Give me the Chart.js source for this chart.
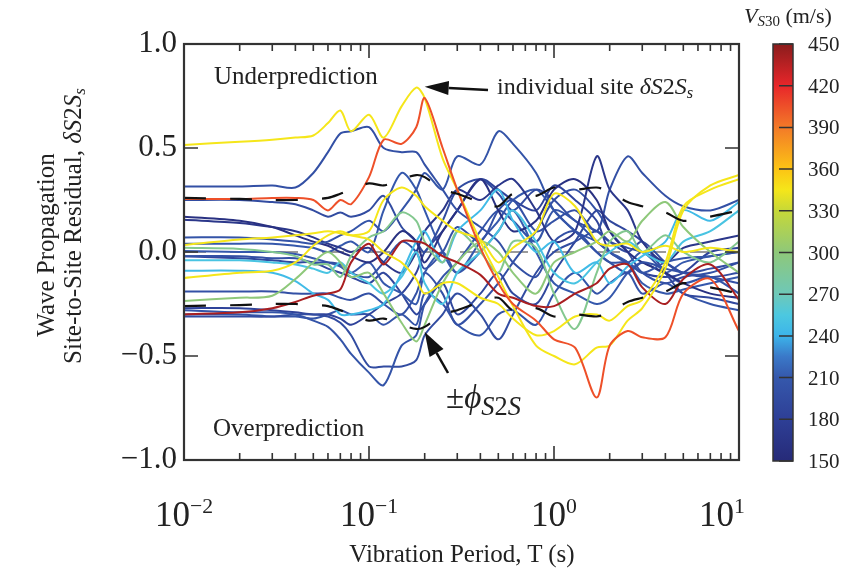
<!DOCTYPE html>
<html>
<head>
<meta charset="utf-8">
<script src="https://cdn.jsdelivr.net/npm/chart.js@4.4.0/dist/chart.umd.min.js"></script>
<style>
  body { margin: 0; background: #fff; }
  #wrap { position: relative; width: 853px; height: 580px; overflow: hidden; }
  #c { position: absolute; left: 0; top: 0; }
  .t { position: absolute; font-family: "Liberation Serif", "Times New Roman", serif; color: #222; white-space: nowrap; line-height: 1; }
  .t sub { font-size: 0.68em; vertical-align: -0.25em; }
  .t sup { font-size: 0.62em; vertical-align: 0.6em; }
  .t .big { font-size: 0.8em; }
</style>
</head>
<body>
<div id="wrap">
  <canvas id="c" width="853" height="580"></canvas>
</div>
<script>
// periods (s) at which each site curve is read
const periods = [0.01, 0.02, 0.03, 0.04, 0.05, 0.06, 0.07, 0.08, 0.1, 0.12, 0.15, 0.18, 0.2, 0.25, 0.3,
                 0.4, 0.5, 0.6, 0.8, 1.0, 1.3, 1.7, 2.0, 2.5, 3.0, 4.0, 5.0, 7.0, 10.0];

// standard deviation of site terms (plotted as +/-)
const phiS2S = [0.26, 0.255, 0.25, 0.25, 0.255, 0.26, 0.28, 0.3, 0.33, 0.32, 0.35, 0.37, 0.36, 0.3, 0.28,
                0.24, 0.22, 0.28, 0.27, 0.31, 0.3, 0.31, 0.29, 0.24, 0.22, 0.19, 0.15, 0.17, 0.2];

// individual site terms dS2Ss
const site01 = [0.515, 0.53, 0.54, 0.55, 0.56, 0.62, 0.68, 0.58, 0.66, 0.55, 0.70, 0.79, 0.74, 0.45, 0.30, 0.05, -0.12, -0.26, -0.45, -0.50, -0.54, -0.46, -0.45, -0.33, -0.27, -0.08, 0.2, 0.32, 0.37];
const site02 = [0.255, 0.255, 0.26, 0.26, 0.25, 0.2, 0.25, 0.23, 0.36, 0.54, 0.52, 0.6, 0.74, 0.5, 0.3, 0.02, -0.15, -0.25, -0.33, -0.42, -0.46, -0.70, -0.45, -0.38, -0.41, -0.41, -0.2, -0.13, -0.38];
const site03 = [-0.30, -0.29, -0.27, -0.24, -0.21, -0.2, -0.18, -0.05, 0.04, -0.06, 0.05, 0.05, 0.04, -0.02, -0.05, -0.11, -0.2, -0.22, -0.26, -0.26, -0.2, -0.15, -0.08, -0.06, -0.17, -0.25, -0.13, -0.06, -0.23];
const site04 = [0.315, 0.315, 0.32, 0.31, 0.38, 0.48, 0.57, 0.58, 0.6, 0.5, 0.48, 0.48, 0.42, 0.3, 0.2, 0.12, 0.05, -0.05, -0.12, 0.05, 0.1, 0.0, -0.05, -0.1, -0.05, -0.08, -0.1, -0.12, -0.15];
const site05 = [0.07, 0.07, 0.06, 0.05, 0.04, 0.05, 0.08, 0.1, 0.15, 0.1, 0.2, 0.3, 0.38, 0.3, 0.46, 0.42, 0.58, 0.52, 0.38, 0.2, 0.1, 0.0, -0.05, -0.05, -0.1, -0.05, -0.03, -0.02, 0.0];
const site06 = [0.17, 0.15, 0.12, 0.08, 0.05, 0.03, 0.0, -0.02, -0.05, 0.0, 0.1, 0.05, -0.05, 0.1, 0.2, 0.35, 0.2, 0.1, 0.15, 0.3, 0.35, 0.25, 0.1, 0.0, -0.05, -0.1, -0.15, -0.2, -0.22];
const site07 = [0.155, 0.14, 0.12, 0.1, 0.07, 0.04, 0.02, 0.0, 0.02, -0.05, -0.1, 0.0, 0.1, 0.2, 0.3, 0.25, 0.32, 0.35, 0.2, 0.05, 0.1, 0.46, 0.3, 0.2, 0.05, -0.05, 0.02, 0.05, 0.08];
const site08 = [-0.02, -0.02, -0.03, -0.03, -0.05, -0.05, -0.06, -0.1, -0.12, -0.05, 0.05, 0.0, -0.08, 0.0, 0.12, 0.05, 0.2, 0.25, 0.1, 0.15, 0.2, 0.1, 0.3, 0.46, 0.38, 0.27, 0.22, 0.2, 0.25];
const site09 = [-0.28, -0.29, -0.29, -0.3, -0.33, -0.36, -0.42, -0.49, -0.58, -0.64, -0.45, -0.4, -0.25, -0.12, -0.05, 0.1, 0.2, 0.15, 0.05, 0.2, 0.15, 0.05, 0.0, -0.05, 0.0, -0.1, -0.15, -0.12, -0.2];
const site10 = [-0.31, -0.31, -0.31, -0.3, -0.3, -0.31, -0.34, -0.4, -0.55, -0.55, -0.55, -0.52, -0.4, -0.3, -0.2, -0.3, -0.42, -0.3, -0.1, 0.0, 0.05, 0.1, 0.05, 0.0, 0.05, -0.05, -0.1, -0.08, -0.05];
const site11 = [-0.09, -0.09, -0.1, -0.14, -0.2, -0.23, -0.3, -0.3, -0.28, -0.25, -0.1, 0.05, 0.1, -0.05, 0.1, 0.2, 0.3, 0.15, 0.0, 0.05, -0.1, -0.05, -0.15, -0.07, -0.02, 0.05, 0.2, 0.15, 0.24];
const site12 = [-0.04, -0.04, -0.05, -0.06, -0.08, -0.1, -0.05, -0.1, -0.15, -0.2, -0.12, 0.0, -0.15, -0.25, -0.1, 0.0, 0.1, 0.2, 0.05, -0.1, -0.15, -0.05, 0.0, 0.05, 0.0, -0.05, 0.05, 0.1, 0.2];
const site13 = [0.02, 0.015, 0.0, -0.02, -0.06, -0.06, -0.12, -0.02, 0.07, 0.1, 0.19, 0.15, 0.05, -0.05, 0.1, 0.0, -0.1, 0.05, 0.02, -0.2, -0.37, -0.1, 0.05, 0.1, 0.0, 0.08, 0.0, -0.05, 0.05];
const site14 = [-0.235, -0.22, -0.21, -0.13, -0.05, 0.0, -0.05, -0.12, -0.1, -0.2, -0.34, -0.43, -0.35, -0.15, -0.05, 0.05, 0.0, -0.1, -0.2, -0.05, 0.0, 0.05, 0.1, 0.05, 0.15, 0.24, 0.12, 0.0, -0.1];
const site15 = [0.034, 0.06, 0.07, 0.08, 0.09, 0.1, 0.09, 0.08, 0.1, 0.25, 0.31, 0.27, 0.22, 0.15, 0.1, 0.06, -0.05, 0.02, 0.1, 0.28, 0.22, 0.05, 0.03, 0.04, 0.0, 0.03, 0.0, 0.02, 0.0];
const site16 = [-0.125, -0.1, -0.09, -0.05, 0.03, 0.08, 0.1, 0.08, 0.06, 0.0, -0.05, -0.13, -0.2, -0.15, -0.15, -0.22, -0.25, -0.32, -0.4, -0.38, -0.31, -0.3, -0.33, -0.26, -0.23, -0.05, 0.22, 0.3, 0.35];
const site17 = [0.25, 0.25, 0.24, 0.23, 0.2, 0.17, 0.19, 0.17, 0.2, 0.27, 0.12, 0.05, 0.0, 0.15, 0.3, 0.35, 0.28, 0.2, 0.3, 0.25, 0.15, 0.1, 0.05, 0.02, 0.0, -0.05, -0.1, -0.12, -0.1];
const site18 = [0.005, 0.0, 0.0, -0.01, -0.03, -0.05, -0.07, -0.1, -0.05, -0.15, -0.2, -0.25, -0.1, 0.0, -0.1, 0.05, 0.15, 0.25, 0.3, 0.2, 0.1, 0.05, 0.0, -0.05, -0.15, -0.2, -0.18, -0.15, -0.12];
const site19 = [-0.02, -0.03, -0.04, -0.05, -0.05, -0.08, -0.1, -0.12, -0.15, -0.1, -0.2, -0.3, -0.25, -0.15, -0.3, -0.2, -0.1, -0.2, -0.25, -0.1, 0.05, 0.2, 0.15, 0.1, 0.05, -0.1, -0.2, -0.22, -0.25];
const site20 = [-0.19, -0.19, -0.19, -0.2, -0.2, -0.2, -0.22, -0.23, -0.2, -0.25, -0.3, -0.2, -0.1, -0.2, -0.35, -0.25, -0.15, -0.05, 0.1, 0.25, 0.3, 0.2, 0.1, 0.0, -0.1, -0.15, -0.12, -0.1, -0.05];
const site21 = [-0.27, -0.27, -0.28, -0.29, -0.3, -0.3, -0.32, -0.35, -0.3, -0.25, -0.2, -0.1, 0.0, 0.1, 0.2, 0.35, 0.3, 0.25, 0.2, 0.32, 0.25, 0.15, 0.0, -0.05, -0.1, -0.12, -0.1, 0.0, 0.02];
const site22 = [-0.3, -0.3, -0.31, -0.31, -0.32, -0.3, -0.28, -0.3, -0.3, -0.35, -0.3, -0.35, -0.2, -0.25, -0.35, -0.4, -0.3, -0.28, -0.35, -0.2, -0.1, -0.2, -0.15, -0.1, -0.2, -0.15, -0.2, -0.25, -0.28];
const site23 = [0.04, 0.04, 0.04, 0.03, 0.02, 0.0, 0.03, 0.05, 0.0, 0.2, 0.38, 0.3, 0.2, 0.0, -0.1, 0.0, 0.1, 0.2, 0.0, -0.15, -0.2, -0.25, -0.22, -0.1, -0.05, -0.1, -0.05, -0.02, 0.0];

const sites = [site01, site02, site03, site04, site05, site06, site07, site08, site09, site10, site11, site12,
               site13, site14, site15, site16, site17, site18, site19, site20, site21, site22, site23];
// Vs30 (m/s) of each site, sets its colour
const siteVs30 = [345, 405, 440, 200, 205, 160, 168, 200, 205, 195, 245, 252,
                  290, 300, 345, 345, 195, 210, 190, 200, 185, 205, 210];

// colour bar
const cbarTicks = [450, 420, 390, 360, 330, 300, 270, 240, 210, 180, 150];
const cmapVs = [150, 180, 210, 225, 240, 255, 270, 300, 330, 345, 360, 390, 420, 450];
const cmapRgb = [[38, 42, 120], [46, 63, 150], [53, 88, 172], [58, 120, 200], [60, 180, 234], [76, 200, 224],
                 [110, 200, 184], [142, 200, 122], [198, 216, 56], [245, 230, 26], [252, 196, 20],
                 [243, 122, 40], [232, 38, 42], [138, 28, 28]];

// x tick labels
const xDecades = [0.01, 0.1, 1, 10];
const xExponents = ['\u22122', '\u22121', '0', '1'];

function vsColor(v) {
    let i = 0;
    while (i < cmapVs.length - 2 && v > cmapVs[i + 1]) i++;
    const f = Math.max(0, Math.min(1, (v - cmapVs[i]) / (cmapVs[i + 1] - cmapVs[i])));
    const a = cmapRgb[i], b = cmapRgb[i + 1];
    return 'rgb(' + a.map((c, k) => Math.round(c + (b[k] - c) * f)).join(',') + ')';
}

function toPoints(vals) {
    return periods.map((t, i) => ({ x: t, y: vals[i] }));
}

const datasets = [];
datasets.push({ data: toPoints(phiS2S), borderColor: '#111', borderWidth: 2.2, borderDash: [22, 24], tension: 0.3 });
datasets.push({ data: toPoints(phiS2S.map(v => -v)), borderColor: '#111', borderWidth: 2.2, borderDash: [22, 24], tension: 0.3 });
// draw order: put the red/yellow curves above the blue ones
const drawOrder = [1, 0, 15, 14, 2, 12, 13, 10, 11, 3, 4, 5, 6, 7, 8, 9, 16, 17, 18, 19, 20, 21, 22];
drawOrder.forEach(i => {
    datasets.push({ data: toPoints(sites[i]), borderColor: vsColor(siteVs30[i]), borderWidth: 2, tension: 0.3 });
});
datasets.push({ data: [{ x: 0.01, y: 0 }, { x: 10, y: 0 }], borderColor: '#9a9a9a', borderWidth: 2, borderDash: [22, 24] });

function arrow(ctx, x0, y0, x1, y1, headLen, headW) {
    const ang = Math.atan2(y1 - y0, x1 - x0);
    const bx = x1 - headLen * Math.cos(ang), by = y1 - headLen * Math.sin(ang);
    ctx.beginPath();
    ctx.moveTo(x0, y0);
    ctx.lineTo(bx, by);
    ctx.lineWidth = 2.5;
    ctx.strokeStyle = '#111';
    ctx.stroke();
    ctx.beginPath();
    ctx.moveTo(x1, y1);
    ctx.lineTo(bx + headW * Math.sin(ang), by - headW * Math.cos(ang));
    ctx.lineTo(bx - headW * Math.sin(ang), by + headW * Math.cos(ang));
    ctx.closePath();
    ctx.fillStyle = '#111';
    ctx.fill();
}

const framePlugin = {
    id: 'frame',
    afterDraw(chart) {
        const ctx = chart.ctx;
        const a = chart.chartArea;
        const xs = chart.scales.x, ys = chart.scales.y;
        ctx.save();
        ctx.strokeStyle = '#333';
        ctx.lineWidth = 2.2;
        ctx.strokeRect(a.left, a.top, a.right - a.left, a.bottom - a.top);

        // inward ticks
        ctx.lineWidth = 1.6;
        ctx.beginPath();
        [-1, -0.5, 0, 0.5, 1].forEach(v => {
            const y = ys.getPixelForValue(v);
            ctx.moveTo(a.left, y); ctx.lineTo(a.left + 14, y);
            ctx.moveTo(a.right, y); ctx.lineTo(a.right - 14, y);
        });
        xDecades.forEach(d => {
            const x = xs.getPixelForValue(d);
            ctx.moveTo(x, a.bottom); ctx.lineTo(x, a.bottom - 14);
            ctx.moveTo(x, a.top); ctx.lineTo(x, a.top + 14);
            if (d < 10) {
                for (let k = 2; k <= 9; k++) {
                    const xm = xs.getPixelForValue(d * k);
                    ctx.moveTo(xm, a.bottom); ctx.lineTo(xm, a.bottom - 7);
                    ctx.moveTo(xm, a.top); ctx.lineTo(xm, a.top + 7);
                }
            }
        });
        ctx.stroke();

        // annotation arrows
        arrow(ctx, 488, 90, xs.getPixelForValue(0.2), ys.getPixelForValue(0.795), 24, 7);
        arrow(ctx, 448, 373, xs.getPixelForValue(0.2), ys.getPixelForValue(-0.385), 24, 8);

        // colour bar
        const cbL = 773, cbR = 793, cbT = 44, cbB = 461;
        const g = ctx.createLinearGradient(0, cbB, 0, cbT);
        cmapVs.forEach(v => {
            g.addColorStop((v - 150) / 300, vsColor(v));
        });
        ctx.fillStyle = g;
        ctx.fillRect(cbL, cbT, cbR - cbL, cbB - cbT);
        ctx.strokeStyle = '#333';
        ctx.lineWidth = 1.5;
        ctx.strokeRect(cbL, cbT, cbR - cbL, cbB - cbT);
        ctx.beginPath();
        cbarTicks.forEach(v => {
            const y = cbB - (v - 150) / 300 * (cbB - cbT);
            ctx.moveTo(cbR, y); ctx.lineTo(cbR - 14, y);
        });
        ctx.stroke();
        ctx.restore();
    }
};

const chart = new Chart(document.getElementById('c'), {
    type: 'line',
    data: { datasets: datasets },
    options: {
        responsive: false,
        animation: false,
        layout: { padding: { top: 44, right: 114, left: 0, bottom: 0 } },
        plugins: { legend: { display: false }, tooltip: { enabled: false } },
        elements: { point: { radius: 0 } },
        scales: {
            x: {
                type: 'logarithmic', min: 0.01, max: 10,
                ticks: { display: false },
                grid: { display: false },
                border: { display: false },
                afterFit: function(s) { s.height = 120; }
            },
            y: {
                min: -1, max: 1,
                ticks: {
                    stepSize: 0.5,
                    color: '#222',
                    padding: 7,
                    font: { family: 'Liberation Serif', size: 31 },
                    callback: function(v) { return (v < 0 ? '\u2212' : '') + Math.abs(v).toFixed(1); }
                },
                grid: { display: false, drawTicks: false },
                border: { display: false },
                afterFit: function(s) { s.width = 184; }
            }
        }
    },
    plugins: [framePlugin]
});

// text placed as html
const wrap = document.getElementById('wrap');
function addText(html, x, y, size, align, rotate) {
    const d = document.createElement('div');
    d.className = 't';
    d.innerHTML = html;
    d.style.left = x + 'px';
    d.style.top = y + 'px';
    d.style.fontSize = size + 'px';
    const tx = align === 'left' ? '0' : '-50%';
    d.style.transform = 'translate(' + tx + ',-50%)' + (rotate ? ' rotate(-90deg)' : '');
    wrap.appendChild(d);
    return d;
}

const xs = chart.scales.x;
xDecades.forEach((d, i) => {
    const x = xs.getPixelForValue(d) + (i === xDecades.length - 1 ? -17 : 0);
    addText('10<sup>' + xExponents[i] + '</sup>', x, 514, 35, 'center');
});

addText('Vibration Period, T (s)', 462, 553, 25, 'center');
addText('Wave Propagation', 45, 245, 25, 'center', true);
addText('Site-to-Site Residual, <i>\u03b4S</i>2<i>S<sub>s</sub></i>', 74, 226, 25, 'center', true);
addText('Underprediction', 214, 75, 25, 'left');
addText('Overprediction', 213, 427, 25, 'left');
addText('individual site <i>\u03b4S</i>2<i>S<sub>s</sub></i>', 497, 88, 24, 'left');
addText('\u00b1<i>\u03d5</i><sub class="big"><i>S</i>2<i>S</i></sub>', 446, 400, 33, 'left');
addText('<i>V</i><sub><i>S</i>30</sub> (m/s)', 744, 17, 22, 'left');
cbarTicks.forEach(v => {
    const y = 461 - (v - 150) / 300 * (461 - 44);
    addText(String(v), 808, y, 21, 'left');
});
</script>
</body>
</html>
